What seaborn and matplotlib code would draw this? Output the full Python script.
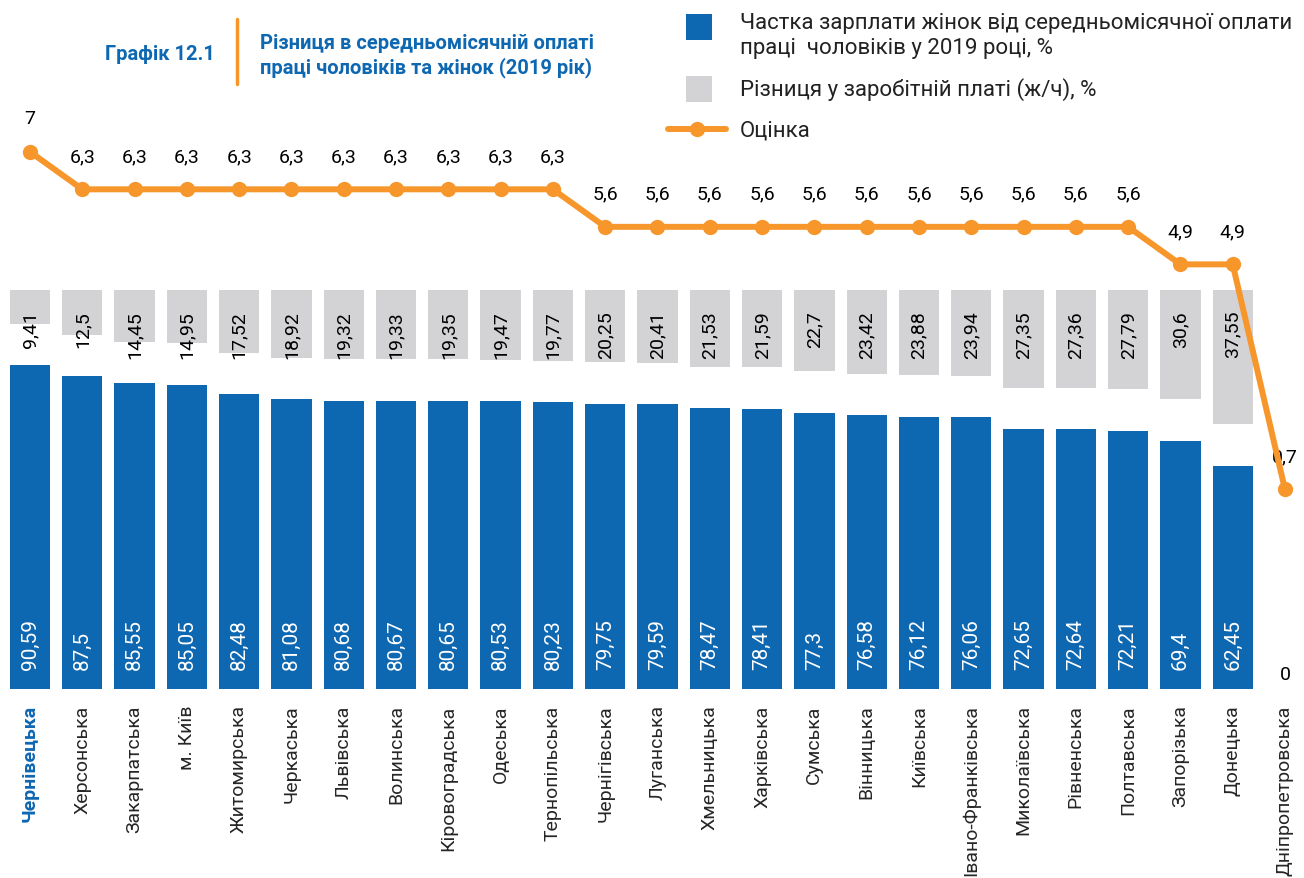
import numpy as np
import matplotlib
matplotlib.use("Agg")
import matplotlib.pyplot as plt
import seaborn as sns
from matplotlib.patches import Rectangle
from matplotlib.lines import Line2D

categories = ['Чернівецька', 'Херсонська', 'Закарпатська', 'м. Київ', 'Житомирська',
              'Черкаська', 'Львівська', 'Волинська', 'Кіровоградська', 'Одеська',
              'Тернопільська', 'Чернігівська', 'Луганська', 'Хмельницька', 'Харківська',
              'Сумська', 'Вінницька', 'Київська', 'Івано-Франківська', 'Миколаївська',
              'Рівненська', 'Полтавська', 'Запорізька', 'Донецька', 'Дніпропетровська']
share = [90.59, 87.5, 85.55, 85.05, 82.48, 81.08, 80.68, 80.67, 80.65, 80.53,
         80.23, 79.75, 79.59, 78.47, 78.41, 77.3, 76.58, 76.12, 76.06, 72.65,
         72.64, 72.21, 69.4, 62.45, 0]
gap = [9.41, 12.5, 14.45, 14.95, 17.52, 18.92, 19.32, 19.33, 19.35, 19.47,
       19.77, 20.25, 20.41, 21.53, 21.59, 22.7, 23.42, 23.88, 23.94, 27.35,
       27.36, 27.79, 30.6, 37.55, None]
score = [7, 6.3, 6.3, 6.3, 6.3, 6.3, 6.3, 6.3, 6.3, 6.3,
         6.3, 5.6, 5.6, 5.6, 5.6, 5.6, 5.6, 5.6, 5.6, 5.6,
         5.6, 5.6, 4.9, 4.9, 0.7]

legend_labels = ['Частка зарплати жінок від середньомісячної оплати\nпраці  чоловіків у 2019 році, %',
                 'Різниця у заробітній платі (ж/ч), %',
                 'Оцінка']
title_num = 'Графік 12.1'
title_text = 'Різниця в середньомісячній оплаті\nпраці чоловіків та жінок (2019 рік)'

BLUE = '#0e67b1'
GRAY = '#d3d3d5'
ORANGE = '#f7962b'

def fmt(v):
    return f"{v:g}".replace('.', ',')

sns.set_theme(style='white')
plt.rcParams['font.family'] = ['Roboto', 'DejaVu Sans']

W, H = 1304, 879
fig = plt.figure(figsize=(W / 100, H / 100), dpi=100)

def fx(px):
    return px / W

def fy(py):
    return 1 - py / H

# axes: bottom at px 690, top at px 0
ax = fig.add_axes([0, fy(690), 1, 690 / H])
spacing = (1285 - 30) / 24
x0 = -30 / spacing
pxu = 3.575
ax.set_ylim(0, 690 / pxu)
gray_top = (690 - 291) / pxu

xs = np.arange(len(categories))
sns.barplot(x=xs, y=share, color=BLUE, width=0.77, ax=ax, native_scale=True,
            saturation=1, linewidth=0)
gx = [x for x, g in zip(xs, gap) if g is not None]
gv = [g for g in gap if g is not None]
ax.bar(gx, [-g for g in gv], bottom=gray_top, width=0.77, color=GRAY, linewidth=0)
ax.set_xlim(x0, x0 + W / spacing)

for x, v in zip(xs, share):
    if v > 0:
        ax.text(x, 20 / pxu, fmt(v), rotation=90, ha='center', va='bottom',
                color='white', fontsize=15)
    else:
        ax.text(x, 15 / pxu, fmt(v), ha='center', va='center', color='black', fontsize=14)
for x, g in zip(gx, gv):
    ax.text(x, (690 - 311) / pxu, fmt(g), rotation=90, ha='center', va='top',
            color='black', fontsize=14)

ax.set_xticks(xs)
ax.set_xticklabels(categories, rotation=90, fontsize=14, va='top', ha='center')
ax.tick_params(axis='x', length=0, pad=11)
ax.set_yticks([])
lbls = ax.get_xticklabels()
lbls[0].set_color(BLUE)
lbls[0].set_fontweight('bold')
for s in ax.spines.values():
    s.set_visible(False)
ax.set_xlabel('')
ax.set_ylabel('')

ax2 = ax.twinx()
ppu = 53.6
lo = -(690 - 528) / ppu
ax2.set_ylim(lo, lo + 690 / ppu)
sns.lineplot(x=xs, y=score, ax=ax2, color=ORANGE, linewidth=4.3, marker='o',
             markersize=11, markeredgewidth=0, zorder=5)
ax2.set_xlim(x0, x0 + W / spacing)
for x, s in zip(xs, score):
    ax2.annotate(fmt(s), (x, s), xytext=(0, 24), textcoords='offset points',
                 ha='center', va='center', fontsize=14, color='black')
ax2.set_yticks([])
for s in ax2.spines.values():
    s.set_visible(False)
ax2.set_ylabel('')

# title
fig.text(fx(215), fy(55), title_num, ha='right', va='center', fontsize=14.5,
         fontweight='bold', color=BLUE)
fig.add_artist(Line2D([fx(237), fx(237)], [fy(20), fy(85)], color=ORANGE, lw=2.5))
fig.text(fx(260), fy(56), title_text, ha='left', va='center', fontsize=14.5,
         fontweight='bold', color=BLUE, linespacing=1.3)

# legend
fig.add_artist(Rectangle((fx(686), fy(41)), fx(26), 26 / H, color=BLUE, lw=0))
fig.add_artist(Rectangle((fx(686), fy(103)), fx(26), 26 / H, color=GRAY, lw=0))
fig.add_artist(Line2D([fx(668), fx(726)], [fy(130), fy(130)], color=ORANGE, lw=4.3))
fig.add_artist(Line2D([fx(697)], [fy(130)], color=ORANGE, marker='o', markersize=11,
                      lw=0, markeredgewidth=0))
fig.text(fx(740), fy(36), legend_labels[0], ha='left', va='center', fontsize=16,
         color='#222222', linespacing=1.2)
fig.text(fx(740), fy(90), legend_labels[1], ha='left', va='center', fontsize=16,
         color='#222222')
fig.text(fx(740), fy(131), legend_labels[2], ha='left', va='center', fontsize=16,
         color='#222222')

fig.savefig('out.png', dpi=100)
